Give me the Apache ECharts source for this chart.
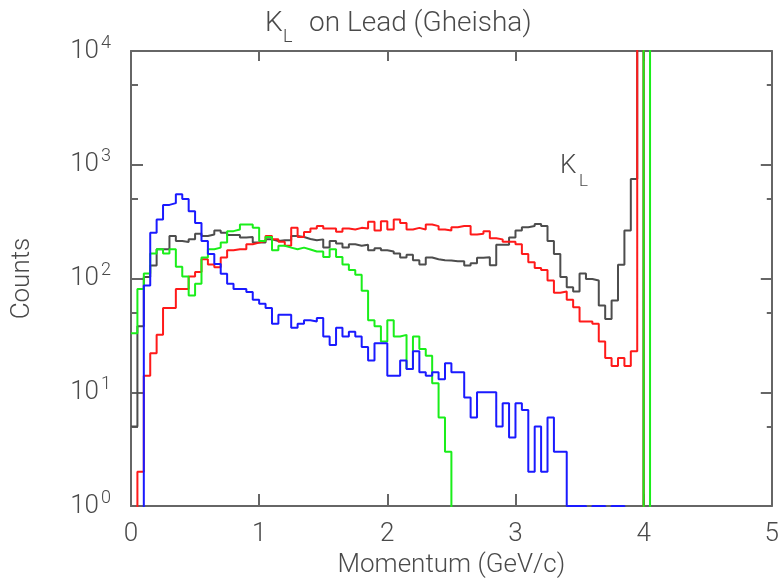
<!DOCTYPE html>
<html>
<head>
<meta charset="utf-8">
<script src="https://cdn.jsdelivr.net/npm/echarts@6/dist/echarts.min.js"></script>
<style>
  html, body { margin: 0; padding: 0; background: #ffffff; }
  #chart { width: 782px; height: 583px; }
</style>
</head>
<body>
<div id="chart"></div>
<script>
// Momentum histograms of particles from K_L interactions on lead (Gheisha).
// Bins are 0.05 GeV/c wide, starting at 0.
const binWidth = 0.05;

const xTickValues = [0, 1, 2, 3, 4, 5];
const yMajorTicks = [1, 10, 100, 1000, 10000];
const yMinorTicks = [5, 50, 500, 5000];

// counts per bin, bin i covers [i*0.05, (i+1)*0.05)
const countsBlack = [
  5, 38, 103, 130, 181, 181, 237, 214, 210, 221,
  248, 237, 244, 265, 253, 241, 241, 229, 232, 207,
  207, 221, 214, 217, 217, 237, 232, 223, 217, 221,
  187, 214, 203, 187, 200, 194, 198, 177, 185, 177,
  173, 166, 153, 162, 145, 133, 153, 148, 145, 144,
  142, 142, 130, 136, 152, 154, 131, 198, 198, 229,
  265, 283, 289, 302, 289, 214, 164, 103, 84, 77,
  111, 99, 96, 58, 44, 64, 132, 265, 750, 20000,
  0, 0
];

const countsRed = [
  0, 2, 14, 22, 32, 55, 55, 81, 81, 104,
  114, 148, 133, 126, 153, 177, 181, 181, 200, 207,
  214, 237, 221, 211, 194, 279, 232, 257, 276, 289,
  275, 275, 258, 275, 270, 279, 275, 315, 265, 319,
  270, 330, 308, 270, 279, 270, 298, 289, 270, 265,
  283, 289, 289, 244, 248, 260, 226, 221, 211, 211,
  200, 164, 139, 124, 119, 96, 75, 77, 65, 56,
  42, 42, 40, 28, 20, 17, 20, 17, 23, 20000,
  0, 0
];

const countsGreen = [
  33, 81, 111, 166, 181, 166, 181, 127, 104, 71,
  90, 153, 181, 187, 207, 261, 270, 298, 298, 279,
  214, 232, 177, 194, 187, 181, 187, 180, 173, 173,
  155, 181, 155, 133, 119, 108, 78, 43, 38, 28,
  43, 31, 32, 16, 31, 24, 21, 12, 6, 3,
  0, 0, 0, 0, 0, 0, 0, 0, 0, 0,
  0, 0, 0, 0, 0, 0, 0, 0, 0, 0,
  0, 0, 0, 0, 0, 0, 0, 0, 0, 0,
  20000, 0
];

const countsBlue = [
  0, 0, 87, 253, 330, 444, 460, 550, 500, 390,
  308, 214, 164, 134, 110, 90, 81, 81, 76, 65,
  60, 55, 40, 48, 48, 37, 40, 43, 42, 45,
  31, 26, 37, 31, 34, 31, 25, 19, 27, 27,
  14, 14, 19, 16, 23, 15, 14, 15, 13, 18,
  15, 15, 9, 6, 10, 10, 10, 5, 8, 4,
  8, 7, 2, 5, 2, 6, 3, 3, 1, 1,
  1, 0, 1, 1, 0, 1, 1, 0, 0, 0,
  0, 0
];

const fontFamily = 'Roboto, "Liberation Sans", sans-serif';
const textColor = '#4a4a4a';
const frameColor = '#666666';

// Empty bins sit below the log axis floor and get clipped away.
const zeroFloor = 0.01;
function histogramPoints(counts) {
  const pts = counts.map((c, i) => [i * binWidth, c > 0 ? c : zeroFloor]);
  const last = counts.length - 1;
  pts.push([(last + 1) * binWidth, pts[last][1]]);
  return pts;
}

function histSeries(counts, color) {
  return {
    type: 'line',
    step: 'end',
    data: histogramPoints(counts),
    symbol: 'none',
    showSymbol: false,
    clip: true,
    lineStyle: { color: color, width: 2 },
    emphasis: { disabled: true },
    xAxisIndex: 0,
    yAxisIndex: 0,
    z: 3
  };
}

const logBase = {
  type: 'log', logBase: 10, min: 1, max: 10000,
  splitLine: { show: false }
};
const tickLine = { color: frameColor, width: 2 };

const chart = echarts.init(document.getElementById('chart'), null, { renderer: 'canvas' });

chart.setOption({
  animation: false,
  backgroundColor: '#ffffff',
  grid: { left: 131, right: 6, top: 51, bottom: 71, containLabel: false },
  xAxis: [
    {
      type: 'value', min: 0, max: 5, interval: 1, position: 'bottom',
      splitLine: { show: false },
      axisLine: { show: true, lineStyle: tickLine },
      axisTick: { show: true, inside: true, length: 12, lineStyle: tickLine },
      axisLabel: {
        show: true, margin: 15, color: textColor, fontSize: 26,
        fontFamily: fontFamily, fontWeight: 300,
        customValues: xTickValues
      },
      name: 'Momentum (GeV/c)', nameLocation: 'middle', nameGap: 38,
      nameTextStyle: { color: textColor, fontSize: 26, fontFamily: fontFamily, fontWeight: 300 }
    },
    {
      type: 'value', min: 0, max: 5, interval: 1, position: 'top',
      splitLine: { show: false },
      axisLine: { show: true, lineStyle: tickLine },
      axisTick: { show: true, inside: true, length: 10, lineStyle: tickLine },
      axisLabel: { show: false }
    }
  ],
  yAxis: [
    Object.assign({}, logBase, {
      position: 'left',
      axisLine: { show: true, lineStyle: tickLine },
      axisTick: { show: true, inside: true, length: 12, customValues: yMajorTicks, lineStyle: tickLine },
      axisLabel: {
        show: true, margin: 20, customValues: yMajorTicks,
        formatter: function (v) {
          return '{b|10}{s|' + Math.round(Math.log10(v)) + '}';
        },
        rich: {
          b: { fontSize: 26, lineHeight: 34, fontFamily: fontFamily, fontWeight: 300, color: textColor },
          s: { fontSize: 18, lineHeight: 18, verticalAlign: 'top', fontFamily: fontFamily, fontWeight: 300, color: textColor, padding: [0, 0, 0, 2] }
        }
      },
      name: 'Counts', nameLocation: 'middle', nameGap: 96,
      nameTextStyle: { color: textColor, fontSize: 26, fontFamily: fontFamily, fontWeight: 300 }
    }),
    Object.assign({}, logBase, {
      position: 'left',
      axisLine: { show: false },
      axisTick: { show: true, inside: true, length: 7, customValues: yMinorTicks, lineStyle: tickLine },
      axisLabel: { show: false }
    }),
    Object.assign({}, logBase, {
      position: 'right',
      axisLine: { show: true, lineStyle: tickLine },
      axisTick: { show: true, inside: true, length: 11, customValues: yMajorTicks, lineStyle: tickLine },
      axisLabel: { show: false }
    }),
    Object.assign({}, logBase, {
      position: 'right',
      axisLine: { show: false },
      axisTick: { show: true, inside: true, length: 5, customValues: yMinorTicks, lineStyle: tickLine },
      axisLabel: { show: false }
    })
  ],
  graphic: [
    { type: 'text', x: 265, y: 10, style: { text: 'K', fontSize: 28, fontFamily: fontFamily, fontWeight: 300, fill: textColor, verticalAlign: 'top' } },
    { type: 'text', x: 283, y: 28, style: { text: 'L', fontSize: 18, fontFamily: fontFamily, fontWeight: 300, fill: textColor, verticalAlign: 'top' } },
    { type: 'text', x: 309, y: 10, style: { text: 'on Lead (Gheisha)', fontSize: 28, fontFamily: fontFamily, fontWeight: 300, fill: textColor, verticalAlign: 'top' } },
    { type: 'text', x: 560, y: 153, style: { text: 'K', fontSize: 26, fontFamily: fontFamily, fontWeight: 300, fill: textColor, verticalAlign: 'top' } },
    { type: 'text', x: 579, y: 173, style: { text: 'L', fontSize: 17, fontFamily: fontFamily, fontWeight: 300, fill: textColor, verticalAlign: 'top' } }
  ],
  series: [
    histSeries(countsBlack, '#4d4d4d'),
    histSeries(countsRed, '#ff1a1a'),
    histSeries(countsGreen, '#1aee1a'),
    histSeries(countsBlue, '#1a1aff')
  ]
});
</script>
</body>
</html>
